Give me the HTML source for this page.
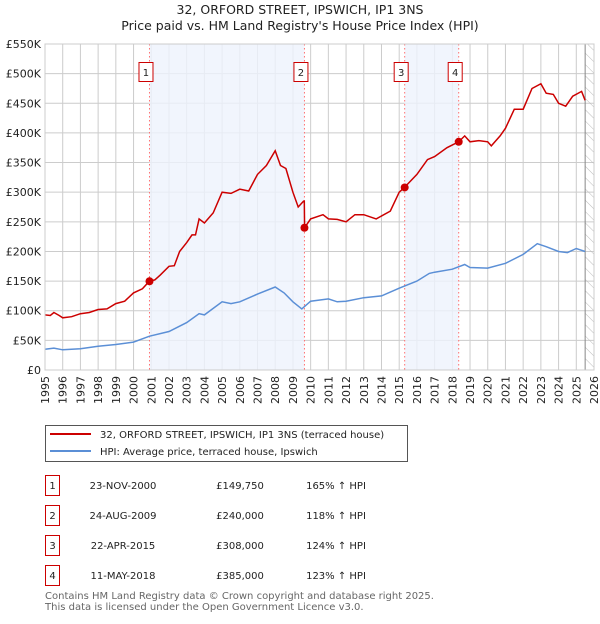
<!DOCTYPE html>
<html><head><meta charset="utf-8">
<style>
body{margin:0;background:#fff;width:600px;height:620px;overflow:hidden;font-family:"DejaVu Sans","Liberation Sans",sans-serif;}
svg text{font-family:"DejaVu Sans","Liberation Sans",sans-serif;}
</style></head>
<body>
<svg id="chart" width="600" height="620" xmlns="http://www.w3.org/2000/svg">
<defs>
<pattern id="hatch" patternUnits="userSpaceOnUse" width="8" height="8" patternTransform="rotate(-45)">
<line x1="0" y1="0" x2="0" y2="8" stroke="#bbb" stroke-width="1"/>
</pattern>
</defs>
<text x="300" y="14" text-anchor="middle" font-size="12.5" fill="#222">32, ORFORD STREET, IPSWICH, IP1 3NS</text>
<text x="300" y="30" text-anchor="middle" font-size="12.5" fill="#222">Price paid vs. HM Land Registry's House Price Index (HPI)</text>
<g id="grid"></g>
<g id="shades"></g>
<g id="series"></g>
<g id="axes"></g>
<g id="legend">
<rect x="45.5" y="425.5" width="362" height="36" fill="#fff" stroke="#555"/>
<line x1="50" y1="434" x2="91" y2="434" stroke="#cc0000" stroke-width="2"/>
<text x="100" y="438" font-size="10" fill="#222">32, ORFORD STREET, IPSWICH, IP1 3NS (terraced house)</text>
<line x1="50" y1="451" x2="91" y2="451" stroke="#5b8fd6" stroke-width="2"/>
<text x="100" y="455" font-size="10" fill="#222">HPI: Average price, terraced house, Ipswich</text>
</g>
<g id="table"></g>
<text x="45" y="599" font-size="10" fill="#666">Contains HM Land Registry data © Crown copyright and database right 2025.</text>
<text x="45" y="610" font-size="10" fill="#666">This data is licensed under the Open Government Licence v3.0.</text>
</svg>
<script>
const yTicks=[0,50000,100000,150000,200000,250000,300000,350000,400000,450000,500000,550000];
const yTickLabels=["£0","£50K","£100K","£150K","£200K","£250K","£300K","£350K","£400K","£450K","£500K","£550K"];
const xYears=[1995,1996,1997,1998,1999,2000,2001,2002,2003,2004,2005,2006,2007,2008,2009,2010,2011,2012,2013,2014,2015,2016,2017,2018,2019,2020,2021,2022,2023,2024,2025,2026];
const priceDates=[1995,1995.3,1995.5,1995.8,1996,1996.5,1997,1997.5,1998,1998.5,1999,1999.5,2000,2000.5,2000.9,2001.2,2001.5,2002,2002.3,2002.6,2003,2003.3,2003.5,2003.7,2004,2004.5,2005,2005.5,2006,2006.5,2007,2007.5,2008,2008.3,2008.6,2009,2009.3,2009.6,2009.64,2009.66,2010,2010.7,2011,2011.5,2012,2012.5,2013,2013.7,2014.5,2015,2015.3,2016,2016.6,2017,2017.7,2018.36,2018.7,2019,2019.5,2020,2020.2,2020.7,2021,2021.5,2022,2022.5,2023,2023.3,2023.7,2024,2024.4,2024.8,2025.3,2025.5];
const priceValues=[93000,92000,97000,92000,88000,90000,95000,97000,102000,103000,112000,116000,130000,137000,150000,152000,160000,175000,176000,200000,215000,228000,228000,255000,248000,265000,300000,298000,305000,302000,330000,345000,370000,345000,340000,300000,275000,285000,285000,240000,255000,262000,255000,254000,250000,262000,262000,255000,268000,300000,308000,330000,355000,360000,375000,385000,395000,385000,387000,385000,378000,395000,408000,440000,440000,475000,483000,467000,465000,450000,445000,462000,470000,455000];
const hpiDates=[1995,1995.5,1996,1997,1998,1999,2000,2000.9,2002,2003,2003.7,2004,2005,2005.5,2006,2007,2008,2008.5,2009,2009.5,2010,2011,2011.5,2012,2013,2014,2015,2016,2016.7,2017,2018,2018.7,2019,2020,2021,2022,2022.8,2023.3,2024,2024.5,2025,2025.5];
const hpiValues=[35000,37000,34000,36000,40000,43000,47000,57000,65000,80000,95000,93000,115000,112000,115000,128000,140000,130000,115000,103000,116000,120000,115000,116000,122000,125000,138000,150000,163000,165000,170000,178000,173000,172000,180000,195000,213000,208000,200000,198000,205000,200000];
const saleLabels=["1","2","3","4"];
const saleDates=[2000.9,2009.65,2015.31,2018.36];
const salePrices=[149750,240000,308000,385000];
const saleDateText=["23-NOV-2000","24-AUG-2009","22-APR-2015","11-MAY-2018"];
const salePriceText=["£149,750","£240,000","£308,000","£385,000"];
const saleHpiText=["165% ↑ HPI","118% ↑ HPI","124% ↑ HPI","123% ↑ HPI"];
const shadeRanges=[[2000.9,2009.65],[2015.31,2018.36]];
const forecastStart=2025.5;

const NS="http://www.w3.org/2000/svg";
const L=45,R=594,T=44,B=370;
const x0=1995,x1=2026,yMax=550000;
const X=v=>L+(v-x0)/(x1-x0)*(R-L);
const Y=v=>B-v/yMax*(B-T);
function mk(tag,attrs,parent){const e=document.createElementNS(NS,tag);for(const k in attrs)e.setAttribute(k,attrs[k]);parent.appendChild(e);return e;}
const grid=document.getElementById('grid'),shades=document.getElementById('shades'),series=document.getElementById('series'),axes=document.getElementById('axes'),table=document.getElementById('table');
mk('rect',{x:L,y:T,width:R-L,height:B-T,fill:'#fff'},grid);
shadeRanges.forEach(r=>{const e=mk('rect',{x:X(r[0]),y:T,width:X(r[1])-X(r[0]),height:B-T,fill:'#eef3fc',opacity:0.8},shades);

});
const hz=mk('rect',{x:X(forecastStart),y:T,width:R-X(forecastStart),height:B-T,fill:'url(#hatch)'},shades);


mk('line',{x1:X(forecastStart),y1:T,x2:X(forecastStart),y2:B,stroke:'#888',"stroke-width":1},shades);
yTicks.forEach((t,i)=>{mk('line',{x1:L,y1:Y(t),x2:R,y2:Y(t),stroke:'#ccc',"stroke-width":1},grid);
const tx=mk('text',{x:L-4,y:Y(t)+4,"text-anchor":"end","font-size":11,fill:'#222'},axes);tx.textContent=yTickLabels[i];

});
xYears.forEach(yr=>{mk('line',{x1:X(yr),y1:T,x2:X(yr),y2:B,stroke:'#ccc',"stroke-width":1},grid);
const tx=mk('text',{x:0,y:0,"text-anchor":"end","font-size":11,fill:'#222',transform:`translate(${X(yr)+4},${B+6}) rotate(-90)`},axes);tx.textContent=yr;

});
mk('rect',{x:L,y:T,width:R-L,height:B-T,fill:'none',stroke:'#ccc'},axes);
saleDates.forEach((d,i)=>{const l=mk('line',{x1:X(d),y1:T,x2:X(d),y2:B,stroke:'#ff7070',"stroke-width":1,"stroke-dasharray":"1.5,2.5"},series);


const b=mk('rect',{x:X(d)-10.5,y:62.5,width:14,height:19,fill:'#fff',stroke:'#cc0000'},series);


const t=mk('text',{x:X(d)-3.5,y:76,"text-anchor":"middle","font-size":10,fill:'#222'},series);t.textContent=saleLabels[i];});
const pts=(ds,vs)=>ds.map((d,i)=>X(d).toFixed(1)+','+Y(vs[i]).toFixed(1)).join(' ');
const hpi=mk('polyline',{points:pts(hpiDates,hpiValues),fill:'none',stroke:'#5b8fd6',"stroke-width":1.5},series);


const pr=mk('polyline',{points:pts(priceDates,priceValues),fill:'none',stroke:'#cc0000',"stroke-width":1.5},series);


saleDates.forEach((d,i)=>{const c=mk('circle',{cx:X(d),cy:Y(salePrices[i]),r:4,fill:'#cc0000'},series);

});
saleLabels.forEach((s,i)=>{const y=475+i*30;
const b=mk('rect',{x:45.5,y:y+0.5,width:14,height:20,fill:'#fff',stroke:'#cc0000'},table);


const cells=[[52.5,s],[123,saleDateText[i]],[240,salePriceText[i]],[336,saleHpiText[i]]];
cells.forEach(c=>{const t=mk('text',{x:c[0],y:y+14,"text-anchor":"middle","font-size":10,fill:'#222'},table);t.textContent=c[1];

});});
</script>
</body></html>
